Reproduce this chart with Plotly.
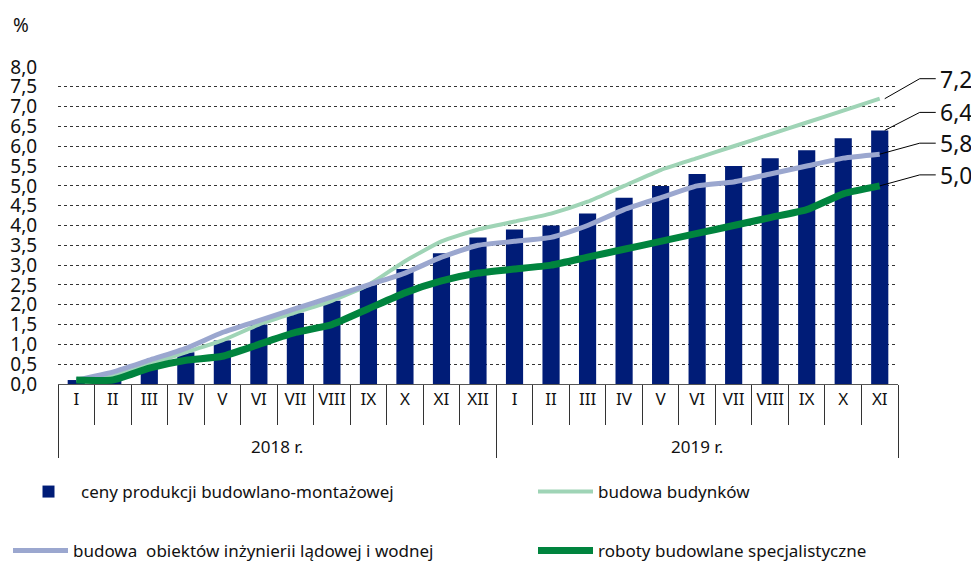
import plotly.graph_objects as go

years = ["<br>2018 r."] * 12 + ["<br>2019 r."] * 11
months = ["I", "II", "III", "IV", "V", "VI", "VII", "VIII", "IX", "X", "XI", "XII",
          "I", "II", "III", "IV", "V", "VI", "VII", "VIII", "IX", "X", "XI"]

ceny = [0.1, 0.1, 0.5, 0.8, 1.1, 1.5, 1.8, 2.1, 2.5, 2.9, 3.3, 3.7,
        3.9, 4.0, 4.3, 4.7, 5.0, 5.3, 5.5, 5.7, 5.9, 6.2, 6.4]
budynki = [0.1, 0.2, 0.5, 0.8, 1.1, 1.5, 1.8, 2.1, 2.5, 3.1, 3.6, 3.9,
           4.1, 4.3, 4.6, 5.0, 5.4, 5.7, 6.0, 6.3, 6.6, 6.9, 7.2]
inzynieria = [0.1, 0.3, 0.6, 0.9, 1.3, 1.6, 1.9, 2.2, 2.5, 2.8, 3.2, 3.5,
              3.6, 3.7, 4.0, 4.4, 4.7, 5.0, 5.1, 5.3, 5.5, 5.7, 5.8]
specjalist = [0.1, 0.1, 0.4, 0.6, 0.7, 1.0, 1.3, 1.5, 1.9, 2.3, 2.6, 2.8,
              2.9, 3.0, 3.2, 3.4, 3.6, 3.8, 4.0, 4.2, 4.4, 4.8, 5.0]

names = ["ceny produkcji budowlano-montażowej", "budowa budynków",
         "budowa  obiektów inżynierii lądowej i wodnej", "roboty budowlane specjalistyczne"]

NAVY = "#001c77"
LGREEN = "#9fd4b6"
LAV = "#9ba7cf"
DGREEN = "#00843e"
FONT = "Noto Sans"
YMAX = 8.0

W, H = 971, 555  # page body has an 8px margin; fits 979x563 window

x = [years, months]
fig = go.Figure()
fig.add_trace(go.Bar(x=x, y=ceny, name=names[0], marker=dict(color=NAVY, line=dict(width=0)),
                     legend="legend"))
fig.add_trace(go.Scatter(x=x, y=budynki, name=names[1], mode="lines",
                         line=dict(color=LGREEN, width=4, shape="spline", smoothing=0.5),
                         legend="legend2"))
fig.add_trace(go.Scatter(x=x, y=inzynieria, name=names[2], mode="lines",
                         line=dict(color=LAV, width=5, shape="spline", smoothing=0.5),
                         legend="legend3"))
fig.add_trace(go.Scatter(x=x, y=specjalist, name=names[3], mode="lines",
                         line=dict(color=DGREEN, width=7, shape="spline", smoothing=0.5),
                         legend="legend4"))

last = len(months) - 1
last_paper_x = (last + 0.5) / len(months)
end_vals = [budynki[-1], ceny[-1], inzynieria[-1], specjalist[-1]]
label_dy = [20, 18, 11, 11]
label_dx = [5, 5, 0, 0]
for v, dy, dx in zip(end_vals, label_dy, label_dx):
    fig.add_shape(type="path", xref="paper", yref="paper", xsizemode="pixel", ysizemode="pixel",
                  xanchor=last_paper_x, yanchor=v / YMAX,
                  path=f"M{dx},0 L40,{dy} L56,{dy}",
                  line=dict(color="#000000", width=1))
    fig.add_annotation(x=last, y=v, xref="x", yref="y", showarrow=False,
                       text=f"{v:.1f}".replace(".", ","), xanchor="left", yanchor="middle",
                       xshift=58, yshift=dy, font=dict(size=23, color="#111111", family=FONT))

fig.add_annotation(x=0, y=1, xref="paper", yref="paper", xanchor="left", yanchor="middle",
                   text="%", showarrow=False, xshift=-47, yshift=42,
                   font=dict(size=19, color="#111111", family=FONT))

def leg(px, py):
    return dict(xref="container", yref="container", x=px / W, y=1 - py / H,
                xanchor="left", yanchor="middle", orientation="h", itemwidth=55,
                font=dict(size=17, family=FONT, color="#111111"),
                bgcolor="rgba(0,0,0,0)", borderwidth=0)

fig.update_layout(
    width=W, height=H,
    margin=dict(l=50, r=81, t=59, b=179, autoexpand=False),
    paper_bgcolor="white", plot_bgcolor="white",
    separators=", ",
    bargap=0.53,
    font=dict(family=FONT, color="#111111"),
    showlegend=True,
    legend=leg(8, 484),
    legend2=leg(525, 484),
    legend3=leg(-9, 543),
    legend4=leg(525, 543),
)
fig.update_yaxes(range=[0, YMAX], dtick=0.5, tick0=0, tickformat=".1f",
                 showgrid=True, gridcolor="#333333", griddash="dot", gridwidth=1,
                 zeroline=False, showline=False,
                 ticks="outside", ticklen=16, tickcolor="rgba(0,0,0,0)",
                 tickfont=dict(size=19, family=FONT, color="#111111"))
fig.update_xaxes(type="multicategory", range=[-0.5, last + 0.5], autorange=False,
                 showline=True, linecolor="#555555", linewidth=1,
                 ticks="outside", tickson="boundaries", ticklen=40, tickcolor="#333333",
                 showdividers=True, dividercolor="#333333", dividerwidth=1,
                 tickangle=0,
                 tickfont=dict(size=17, family=FONT, color="#111111"),
                 showgrid=False, zeroline=False)

fig.write_html("out.html")
